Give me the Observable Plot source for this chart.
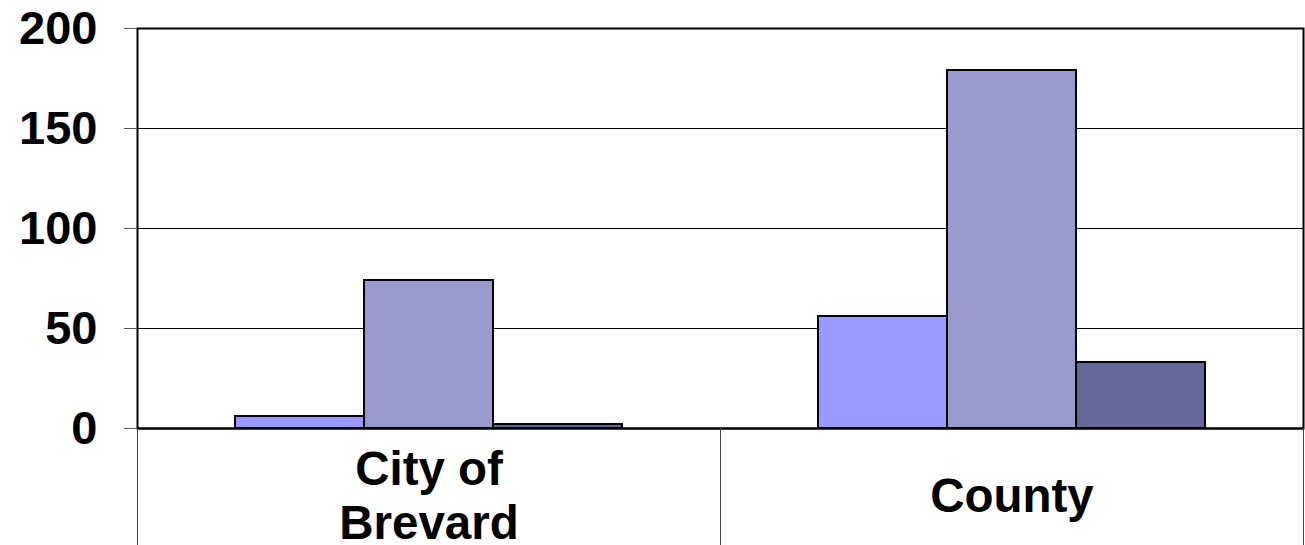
<!DOCTYPE html>
<html>
<head>
<meta charset="utf-8">
<script src="https://cdn.jsdelivr.net/npm/d3@7"></script>
<script src="https://cdn.jsdelivr.net/npm/@observablehq/plot@0.6"></script>
<style>
  html, body { margin: 0; padding: 0; background: #fff; overflow: hidden; }
  #chart svg { display: block; }
</style>
</head>
<body>
<div id="chart"></div>
<script>
const categories = ["City of Brevard", "County"];
const categoryLabels = ["City of\nBrevard", "County"];
const series = ["Series 1", "Series 2", "Series 3"];
const cityValues = [6, 74, 2];
const countyValues = [56, 179, 33];
const seriesColors = ["#9999FF", "#9999CC", "#666699"];
const yTicks = [0, 50, 100, 150, 200];

const valuesByCategory = [cityValues, countyValues];
const data = [];
categories.forEach((c, i) => {
  series.forEach((s, j) => data.push({category: c, series: s, value: valuesByCategory[i][j]}));
});
const labelOf = new Map(categories.map((c, i) => [c, categoryLabels[i]]));

const font = "'Liberation Sans', Arial, sans-serif";

const chart = Plot.plot({
  width: 1305,
  height: 545,
  marginLeft: 137,
  marginRight: 2,
  marginTop: 28,
  marginBottom: 117,
  style: {fontFamily: font, background: "#fff"},
  fx: {domain: categories, padding: 0, axis: null, label: null},
  x: {domain: series, paddingInner: 0, paddingOuter: 0.754, axis: null, label: null},
  y: {domain: [0, 200], axis: null, label: null},
  color: {domain: series, range: seriesColors},
  marks: [
    Plot.gridY(yTicks, {stroke: "#000", strokeOpacity: 1, strokeWidth: 1}),
    Plot.barY(data, {fx: "category", x: "series", y: "value", fill: "series", stroke: "#000", strokeWidth: 2, inset: 0}),
    Plot.ruleY([0], {stroke: "#000", strokeWidth: 2}),
    Plot.frame({facet: "super", stroke: "#000", strokeWidth: 2}),
    Plot.frame({anchor: "left", insetTop: 400, insetBottom: -117, stroke: "#444", strokeWidth: 1}),
    Plot.frame({anchor: "right", insetTop: 400, insetBottom: -117, stroke: "#444", strokeWidth: 1}),
    Plot.text(categories, {
      fx: d => d,
      text: d => labelOf.get(d),
      frameAnchor: "bottom",
      dy: 66,
      lineAnchor: "middle",
      lineHeight: 1.14,
      fontSize: 47.5,
      fontWeight: "bold",
      fill: "#000"
    }),
    Plot.axisY(yTicks, {
      anchor: "left",
      tickSize: 13,
      tickPadding: 27,
      fontSize: 47,
      fontWeight: "bold",
      fill: "#000",
      stroke: "#555",
      strokeOpacity: 1,
      label: null
    })
  ]
});
document.getElementById("chart").appendChild(chart);
</script>
</body>
</html>
